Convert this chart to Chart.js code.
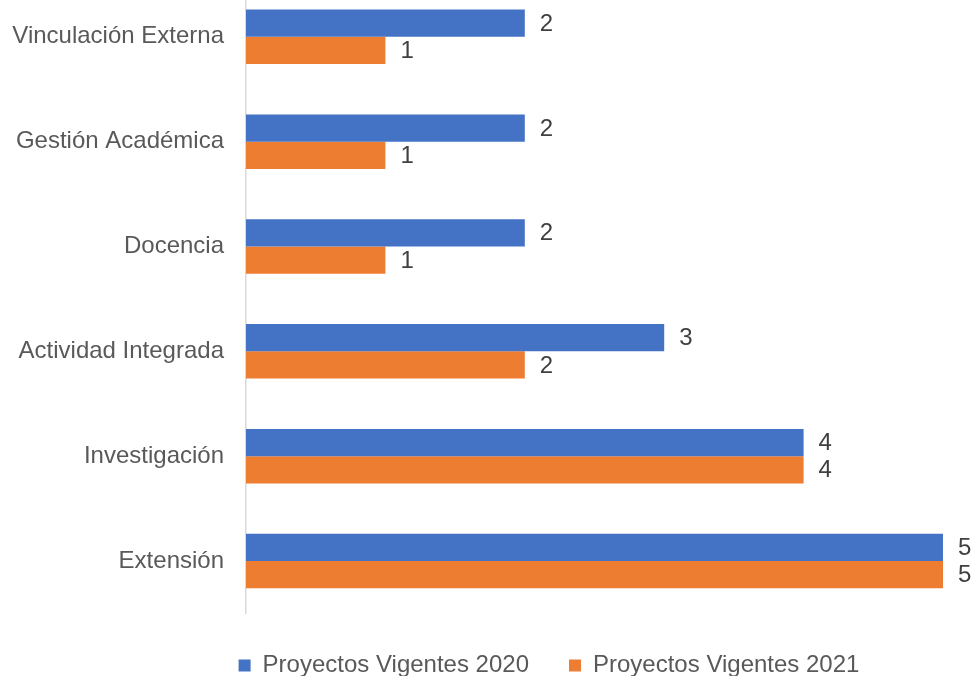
<!DOCTYPE html>
<html>
<head>
<meta charset="utf-8">
<script src="https://cdn.jsdelivr.net/npm/chart.js@4.4.1/dist/chart.umd.min.js"></script>
<style>
  html, body { margin: 0; padding: 0; background: #fff; overflow: hidden; }
  #wrap { position: absolute; left: 0; top: -52.4px; width: 974px; height: 739.4px; }
</style>
</head>
<body>
<div id="wrap"><canvas id="chart"></canvas></div>
<script>
const categories = ["Vinculación Externa", "Gestión Académica", "Docencia", "Actividad Integrada", "Investigación", "Extensión"];
const projects2020 = [2, 2, 2, 3, 4, 5];
const projects2021 = [1, 1, 1, 2, 4, 5];
const seriesNames = ["Proyectos Vigentes 2020", "Proyectos Vigentes 2021"];

const FONT = '"Liberation Sans", Arial, sans-serif';

// value printed just right of each bar
const valueLabels = {
  id: "valueLabels",
  afterLayout(chart) {
    // push the legend row right so it sits under the bars like the original
    chart.legend.left = 155;
    chart.legend.right = 943;
    chart.legend.width = 788;
  },
  afterDatasetsDraw(chart) {
    const ctx = chart.ctx;
    ctx.save();
    ctx.font = "24px " + FONT;
    ctx.fillStyle = "#404040";
    ctx.textAlign = "left";
    ctx.textBaseline = "middle";
    chart.data.datasets.forEach((ds, i) => {
      chart.getDatasetMeta(i).data.forEach((bar, j) => {
        ctx.fillText(ds.data[j], bar.x + 15, bar.y + 1);
      });
    });
    ctx.restore();
  }
};

new Chart(document.getElementById("chart"), {
  type: "bar",
  data: {
    labels: categories,
    datasets: [
      { label: seriesNames[0], data: projects2020, backgroundColor: "#4472C4" },
      { label: seriesNames[1], data: projects2021, backgroundColor: "#ED7D31" }
    ]
  },
  options: {
    indexAxis: "y",
    responsive: true,
    maintainAspectRatio: false,
    animation: false,
    layout: { padding: { left: 0, right: 31, top: 0, bottom: 0 } },
    datasets: { bar: { categoryPercentage: 0.52, barPercentage: 1 } },
    scales: {
      x: { display: false, min: 0, max: 5 },
      y: {
        grid: { display: false, drawTicks: false },
        border: { display: true, color: "#D9D9D9", width: 1.5 },
        ticks: { padding: 22, color: "#595959", font: { size: 24, family: FONT } },
        afterFit: s => { s.width = 246; }
      }
    },
    plugins: {
      tooltip: { enabled: false },
      legend: {
        position: "bottom",
        labels: { boxWidth: 12, boxHeight: 12, padding: 40, color: "#595959", font: { size: 24, family: FONT } }
      }
    }
  },
  plugins: [valueLabels]
});
</script>
</body>
</html>
